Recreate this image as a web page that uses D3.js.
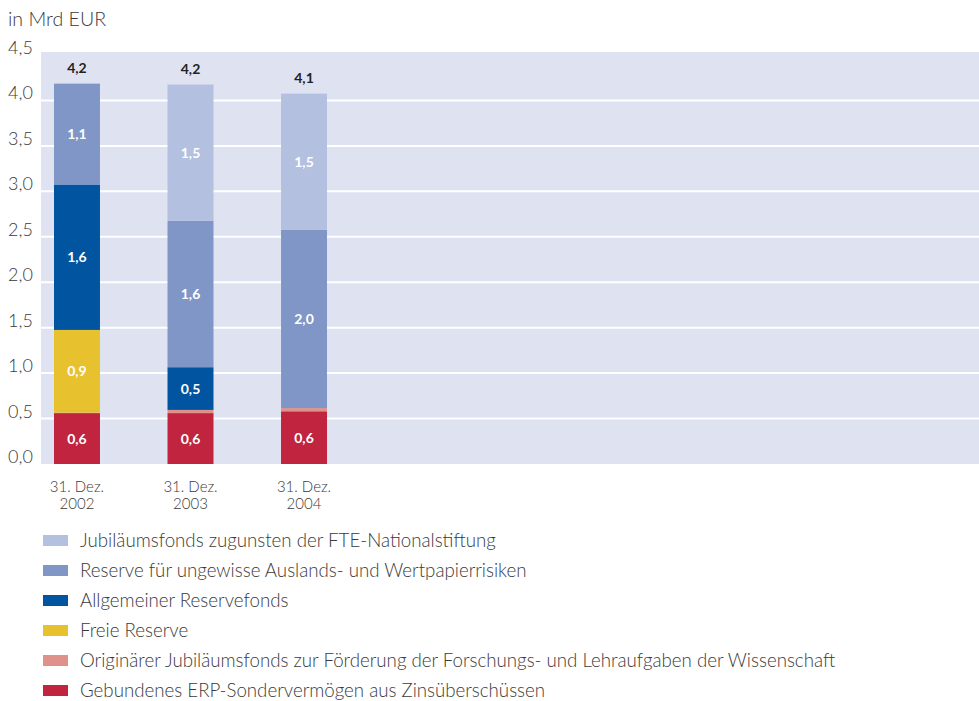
<!DOCTYPE html>
<html>
<head>
<meta charset="utf-8">
<script src="https://cdn.jsdelivr.net/npm/d3@7"></script>
<style>
  body { margin: 0; background: #fff; }
  svg text { font-family: "Lato", "Open Sans", sans-serif; }
</style>
</head>
<body>
<div id="chartCont"></div>
<script>
// data (Mrd EUR)
const years = ["2002", "2003", "2004"];
const seriesNames = [
  "Gebundenes ERP-Sondervermögen aus Zinsüberschüssen",
  "Originärer Jubiläumsfonds zur Förderung der Forschungs- und Lehraufgaben der Wissenschaft",
  "Freie Reserve",
  "Allgemeiner Reservefonds",
  "Reserve für ungewisse Auslands- und Wertpapierrisiken",
  "Jubiläumsfonds zugunsten der FTE-Nationalstiftung"
];
const gebunden = [0.56, 0.56, 0.58];
const originaer = [0.005, 0.035, 0.035];
const freie = [0.91, 0, 0];
const allgemein = [1.6, 0.47, 0];
const reserve = [1.11, 1.61, 1.96];
const jubilaeum = [0, 1.5, 1.5];
const yTicks = [0, 0.5, 1, 1.5, 2, 2.5, 3, 3.5, 4, 4.5];
const colors = ["#c0243e", "#e0918a", "#e8c12f", "#0054a0", "#7f96c6", "#b3c0df"];

let width = 979,
  height = 701;

let svg = d3.select("#chartCont")
  .append("svg")
  .attr("width", width)
  .attr("height", height);

let table = years.map(function(y, i) {
  return {
    year: y,
    s0: gebunden[i], s1: originaer[i], s2: freie[i],
    s3: allgemein[i], s4: reserve[i], s5: jubilaeum[i]
  };
});
let keys = ["s0", "s1", "s2", "s3", "s4", "s5"];
let stack = d3.stack().keys(keys)(table);

let plotLeft = 41, plotRight = 979, plotTop = 52;

let y = d3.scaleLinear().domain([0, 4.5]).range([464, 55]);
let x = d3.scaleBand().domain(years).range([41, 340])
  .paddingInner(0.595).paddingOuter(0.1145);

let fmt = function(v) { return d3.format(".1f")(v).replace(".", ","); };

// plot background
svg.append("rect")
  .attr("x", plotLeft).attr("y", plotTop)
  .attr("width", plotRight - plotLeft).attr("height", y(0) - plotTop)
  .attr("fill", "#dfe2f0");

// gridlines
svg.selectAll(".grid")
  .data(yTicks.filter(function(d) { return d > 0 && d < 4.5; }))
  .enter().append("line")
  .attr("x1", plotLeft).attr("x2", plotRight)
  .attr("y1", function(d) { return y(d); })
  .attr("y2", function(d) { return y(d); })
  .attr("stroke", "#fff").attr("stroke-width", 2);

// y tick labels
svg.selectAll(".ytick")
  .data(yTicks)
  .enter().append("text")
  .attr("x", 8)
  .attr("y", function(d) { return y(d) - 1; })
  .attr("font-size", 18).attr("font-weight", 300)
  .attr("fill", "#3a3a3a")
  .text(function(d) { return fmt(d); });

svg.append("text")
  .attr("x", 8).attr("y", 26)
  .attr("font-size", 19.6).attr("font-weight", 300).attr("fill", "#3a3a3a")
  .text("in Mrd EUR");

// bars
let layer = svg.selectAll(".layer")
  .data(stack)
  .enter().append("g")
  .attr("fill", function(d, i) { return colors[i]; });

layer.selectAll("rect")
  .data(function(d) { return d; })
  .enter().append("rect")
  .attr("x", function(d) { return x(d.data.year); })
  .attr("width", x.bandwidth())
  .attr("y", function(d) { return y(d[1]); })
  .attr("height", function(d) { return y(d[0]) - y(d[1]); });

// labels inside segments
layer.selectAll("text")
  .data(function(d) { return d.filter(function(s) { return s[1] - s[0] > 0.2; }); })
  .enter().append("text")
  .attr("x", function(d) { return x(d.data.year) + x.bandwidth() / 2; })
  .attr("y", function(d) { return y((d[0] + d[1]) / 2) + 5; })
  .attr("text-anchor", "middle")
  .attr("font-size", 14).attr("font-weight", "bold")
  .attr("fill", "#fff")
  .text(function(d) { return fmt(d[1] - d[0]); });

// totals
svg.selectAll(".total")
  .data(table)
  .enter().append("text")
  .attr("x", function(d) { return x(d.year) + x.bandwidth() / 2; })
  .attr("y", function(d) { return y(d3.sum(keys, function(k) { return d[k]; })) - 11; })
  .attr("text-anchor", "middle")
  .attr("font-size", 14).attr("font-weight", "bold")
  .attr("fill", "#222")
  .text(function(d) { return fmt(d3.sum(keys, function(k) { return d[k]; })); });

// x labels
let xl = svg.selectAll(".xlab")
  .data(years)
  .enter().append("text")
  .attr("text-anchor", "middle")
  .attr("font-size", 15).attr("font-weight", 300).attr("fill", "#3a3a3a")
  .attr("x", function(d) { return x(d) + x.bandwidth() / 2; })
  .attr("y", 492);
xl.append("tspan").text("31. Dez.");
xl.append("tspan")
  .attr("x", function(d) { return x(d) + x.bandwidth() / 2; })
  .attr("dy", 17)
  .text(function(d) { return d; });

// legend, top to bottom
let legend = svg.selectAll(".legend")
  .data(seriesNames.slice().reverse())
  .enter().append("g")
  .attr("transform", function(d, i) { return "translate(43," + (541 + i * 30) + ")"; });

legend.append("rect")
  .attr("x", 0).attr("y", -6)
  .attr("width", 25).attr("height", 11)
  .attr("fill", function(d, i) { return colors[5 - i]; });

legend.append("text")
  .attr("x", 37).attr("y", 6)
  .attr("font-size", 18.7).attr("font-weight", 300).attr("fill", "#3a3a3a")
  .text(function(d) { return d; });
</script>
</body>
</html>
